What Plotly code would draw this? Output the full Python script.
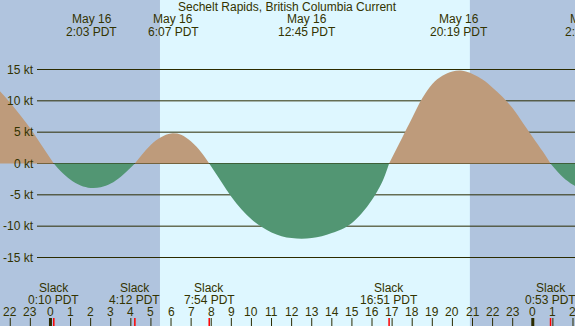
import plotly.graph_objects as go

# ---- data ----
hours = [-3.0, -2.5, -2.0, -1.5, -1.0, -0.5, 0.167, 0.5, 1.0, 1.5, 2.0, 2.5, 3.0, 3.5, 4.2,
         4.5, 5.0, 5.5, 6.0, 6.5, 7.0, 7.5, 7.9, 8.5, 9.0, 9.5, 10.0, 10.5, 11.0, 11.5, 12.0, 12.5,
         13.0, 13.5, 14.0, 14.5, 15.0, 15.5, 16.0, 16.5, 16.85, 17.5, 18.0, 18.5, 19.0, 19.5,
         20.0, 20.5, 21.0, 21.5, 22.0, 22.5, 23.0, 23.5, 24.0, 24.5, 24.88, 25.5, 26.0, 26.5, 27.0]
speed_kt = [13.2, 11.5, 9.7, 7.7, 5.6, 3.2, 0.0, -1.2, -2.6, -3.5, -3.9, -3.8, -3.2, -2.1, 0.0,
            1.2, 3.0, 4.2, 4.8, 4.6, 3.5, 1.8, 0.0, -2.9, -5.3, -7.3, -8.9, -10.1, -11.0, -11.6, -11.9, -12.0,
            -11.9, -11.6, -11.1, -10.5, -9.5, -7.9, -5.8, -3.0, 0.0, 4.1, 7.3, 10.4, 12.7, 14.0,
            14.7, 14.8, 14.3, 13.4, 12.1, 10.6, 8.8, 6.5, 4.2, 1.9, 0.0, -2.2, -3.4, -4.2, -4.5]

# extreme events (hour, top line, bottom line)
max_hours = [2.05, 6.117, 12.75, 20.317, 26.85]
max_dates = ["May 16", "May 16", "May 16", "May 16", "May 17"]
max_times = ["2:03 PDT", "6:07 PDT", "12:45 PDT", "20:19 PDT", "2:48 PDT"]

slack_hours = [0.167, 4.2, 7.9, 16.85, 24.883]
slack_times = ["0:10 PDT", "4:12 PDT", "7:54 PDT", "16:51 PDT", "0:53 PDT"]

sunrise_h = 5.45
sunset_h = 20.87

grid_kt = [15, 10, 5, 0, -5, -10, -15]
grid_labels = ["15 kt", "10 kt", "5 kt", "0 kt", "-5 kt", "-10 kt", "-15 kt"]

hour_ticks = list(range(-2, 27))
title = "Sechelt Rapids, British Columbia Current"

# ---- style ----
W, H = 575, 326
NIGHT = "#B0C4DE"
DAY = "#DEF7FF"
FLOOD = "#BE9B7B"
EBB = "#529673"
INK = "#333300"
LINE = "#2B2B00"
FONT = "Liberation Sans"

X0, X1 = -2.51, 26.1
Y0, Y1 = -25.93, 26.09

def px_to_paper_y(py):
    return (H - py) / H

def hour_to_paper_x(h):
    # same linear mapping as the x axis (plot area spans the whole figure)
    return (h - X0) / (X1 - X0)

pos = [v if v >= 0 else None for v in speed_kt]
neg = [v if v <= 0 else None for v in speed_kt]

fig = go.Figure()
fig.add_trace(go.Scatter(x=hours, y=pos, mode="lines", line=dict(width=0, shape="spline", color=FLOOD),
                         fill="tozeroy", fillcolor=FLOOD, connectgaps=False, hoverinfo="skip"))
fig.add_trace(go.Scatter(x=hours, y=neg, mode="lines", line=dict(width=0, shape="spline", color=EBB),
                         fill="tozeroy", fillcolor=EBB, connectgaps=False, hoverinfo="skip"))

shapes = []
shapes.append(dict(type="rect", xref="x", yref="paper", x0=sunrise_h, x1=sunset_h, y0=0, y1=1,
                   fillcolor=DAY, line=dict(width=0), layer="below"))
label_x_end = X0 + (37 / W) * (X1 - X0)
for g in grid_kt:
    shapes.append(dict(type="line", xref="x", yref="y", x0=label_x_end, x1=X1, y0=g, y1=g,
                       line=dict(color=LINE, width=1), layer="below"))

tick_top = px_to_paper_y(318)
for h in hour_ticks:
    wide = (h % 24 == 0)
    shapes.append(dict(type="line", xref="x", yref="paper", x0=h, x1=h, y0=0, y1=tick_top,
                       line=dict(color=LINE, width=3 if wide else 1)))
for s in slack_hours:
    shapes.append(dict(type="line", xref="x", yref="paper", x0=s, x1=s, y0=0, y1=tick_top,
                       line=dict(color="#FF0000", width=1.5)))

ann = []
f = dict(family=FONT, size=12, color=INK)
common = dict(showarrow=False, font=f, borderpad=0, yanchor="middle")
ann.append(dict(text=title, xref="paper", yref="paper", x=0.5, y=px_to_paper_y(7.5),
                xanchor="center", **common))
for h, d, t in zip(max_hours, max_dates, max_times):
    px = hour_to_paper_x(h)
    ann.append(dict(text=d, xref="paper", yref="paper", x=px, y=px_to_paper_y(19.5), xanchor="center", **common))
    ann.append(dict(text=t, xref="paper", yref="paper", x=px, y=px_to_paper_y(31.5), xanchor="center", **common))
for h, t in zip(slack_hours, slack_times):
    px = hour_to_paper_x(h)
    ann.append(dict(text="Slack", xref="paper", yref="paper", x=px, y=px_to_paper_y(287.5), xanchor="center", **common))
    ann.append(dict(text=t, xref="paper", yref="paper", x=px, y=px_to_paper_y(299.5), xanchor="center", **common))
for h in hour_ticks:
    ann.append(dict(text=str(h % 24), xref="paper", yref="paper", x=hour_to_paper_x(h), y=px_to_paper_y(311.5),
                    xanchor="center", **common))
for g, lab in zip(grid_kt, grid_labels):
    ann.append(dict(text=lab, xref="paper", yref="y", x=35 / W, y=g, xanchor="right", **common))

fig.update_layout(
    width=W, height=H, margin=dict(l=0, r=0, t=0, b=0),
    paper_bgcolor=NIGHT, plot_bgcolor=NIGHT, showlegend=False,
    xaxis=dict(range=[X0, X1], visible=False, fixedrange=True),
    yaxis=dict(range=[Y0, Y1], visible=False, fixedrange=True),
    shapes=shapes, annotations=ann,
)
fig.write_html("out.html", config={"displayModeBar": False},
               post_script="document.body.style.margin='0';document.body.style.overflow='hidden';")
